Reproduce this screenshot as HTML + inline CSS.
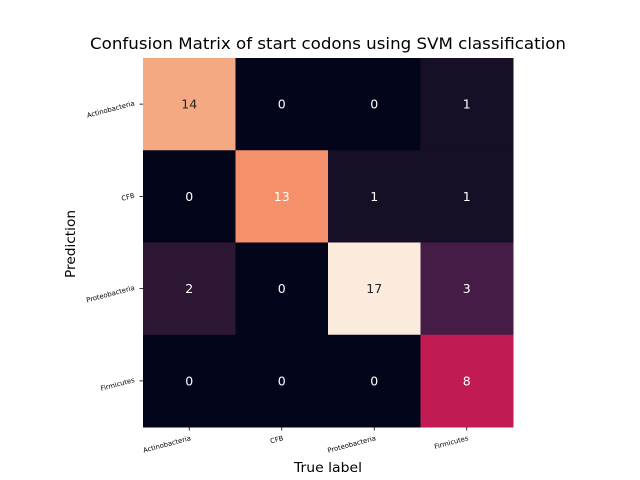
<!DOCTYPE html>
<html><head><meta charset="utf-8"><style>
body{margin:0;background:#fff;}
svg{display:block;font-family:"DejaVu Sans","Liberation Sans",sans-serif;}
</style></head><body>
<svg id="chart" width="640" height="480" xmlns="http://www.w3.org/2000/svg">
<rect width="640" height="480" fill="#fff"/>
<text x="328" y="49" font-size="16" text-anchor="middle" textLength="476" lengthAdjust="spacingAndGlyphs">Confusion Matrix of start codons using SVM classification</text>
<text x="328" y="472" font-size="13.5" text-anchor="middle" textLength="68" lengthAdjust="spacingAndGlyphs">True label</text>
<text transform="translate(75,244) rotate(-90)" font-size="13.5" text-anchor="middle" textLength="68" lengthAdjust="spacingAndGlyphs">Prediction</text>
<g id="cells"></g>
<g id="ticks"></g>
</svg>
<script>
const categories = ["Actinobacteria","CFB","Proteobacteria","Firmicutes"];
const row0 = [14,0,0,1];
const row1 = [0,13,1,1];
const row2 = [2,0,17,3];
const row3 = [0,0,0,8];
const matrix = [row0,row1,row2,row3];
const NS="http://www.w3.org/2000/svg";
const X0=143,X1=513,Y0=58,Y1=427;
const n=categories.length;
const cw=(X1-X0)/n, ch=(Y1-Y0)/n;
const xPos=i=>X0+i*cw, yPos=j=>Y0+j*ch;
const stops=[[0,[3,5,26]],[0.06,[23,15,37]],[0.12,[47,23,54]],[0.18,[70,28,71]],[0.47,[194,26,83]],[0.76,[244,143,104]],[0.82,[245,168,128]],[1,[250,235,221]]];
function color(v){
  const vmax=17;let t=v/vmax;
  for(let k=1;k<stops.length;k++){if(t<=stops[k][0]){const a=stops[k-1],b=stops[k];const f=(t-a[0])/(b[0]-a[0]);
    const c=a[1].map((x,i)=>Math.round(x+(b[1][i]-x)*f));return `rgb(${c})`;}}
  return `rgb(${stops[stops.length-1][1]})`;
}
const cells=document.getElementById('cells');
matrix.forEach((row,j)=>row.forEach((v,i)=>{
  const r=document.createElementNS(NS,'rect');
  r.setAttribute('x',xPos(i));r.setAttribute('y',yPos(j));
  r.setAttribute('width',cw+0.5);r.setAttribute('height',ch+0.5);
  r.setAttribute('fill',color(v));
  
  
  cells.appendChild(r);
  const t=document.createElementNS(NS,'text');
  t.setAttribute('x',xPos(i)+cw/2);t.setAttribute('y',yPos(j)+ch/2+4.5);
  t.setAttribute('text-anchor','middle');t.setAttribute('font-size','12.5');
  t.setAttribute('fill',v/17>0.8?'#262626':'#fff');
  t.textContent=v;
  
  
  cells.appendChild(t);
}));
const ticks=document.getElementById('ticks');
categories.forEach((c,i)=>{
  const cx=xPos(i)+cw/2;
  const l=document.createElementNS(NS,'line');
  l.setAttribute('x1',cx);l.setAttribute('x2',cx);l.setAttribute('y1',Y1);l.setAttribute('y2',Y1+3.5);
  l.setAttribute('stroke','#000');l.setAttribute('stroke-width','0.8');
  
  
  ticks.appendChild(l);
  const t=document.createElementNS(NS,'text');
  t.setAttribute('transform',`translate(${cx+2},${Y1+13}) rotate(-15)`);
  t.setAttribute('text-anchor','end');t.setAttribute('font-size','6.8');
  t.textContent=c;
  
  
  ticks.appendChild(t);
  const cy=yPos(i)+ch/2;
  const l2=document.createElementNS(NS,'line');
  l2.setAttribute('x1',X0-3.5);l2.setAttribute('x2',X0);l2.setAttribute('y1',cy);l2.setAttribute('y2',cy);
  l2.setAttribute('stroke','#000');l2.setAttribute('stroke-width','0.8');
  
  
  ticks.appendChild(l2);
  const t2=document.createElementNS(NS,'text');
  t2.setAttribute('transform',`translate(${X0-8},${cy+1}) rotate(-15)`);
  t2.setAttribute('text-anchor','end');t2.setAttribute('font-size','6.8');
  t2.textContent=c;
  
  
  ticks.appendChild(t2);
});
</script>
</body></html>
